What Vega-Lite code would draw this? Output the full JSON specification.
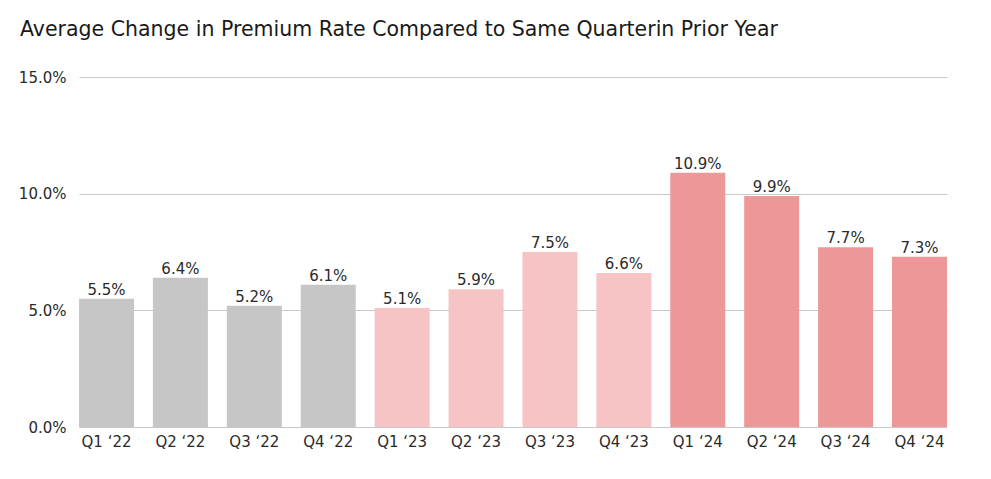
{
  "$schema": "https://vega.github.io/schema/vega-lite/v6.json",
  "width": 868,
  "height": 350,
  "autosize": {"type": "none"},
  "padding": {"left": 79, "top": 77, "right": 44, "bottom": 52},
  "title": {
    "text": "Average Change in Premium Rate Compared to Same Quarterin Prior Year",
    "anchor": "start",
    "frame": "group",
    "dx": -59,
    "offset": 30,
    "fontSize": 20.5,
    "font": "DejaVu Sans",
    "fontWeight": "normal",
    "color": "#1a1a1a"
  },
  "config": {
    "view": {"stroke": null},
    "font": "DejaVu Sans"
  },
  "data": {
    "values": [
      {"quarter": "Q1 ‘22", "value": 5.5, "year": "2022"},
      {"quarter": "Q2 ‘22", "value": 6.4, "year": "2022"},
      {"quarter": "Q3 ‘22", "value": 5.2, "year": "2022"},
      {"quarter": "Q4 ‘22", "value": 6.1, "year": "2022"},
      {"quarter": "Q1 ‘23", "value": 5.1, "year": "2023"},
      {"quarter": "Q2 ‘23", "value": 5.9, "year": "2023"},
      {"quarter": "Q3 ‘23", "value": 7.5, "year": "2023"},
      {"quarter": "Q4 ‘23", "value": 6.6, "year": "2023"},
      {"quarter": "Q1 ‘24", "value": 10.9, "year": "2024"},
      {"quarter": "Q2 ‘24", "value": 9.9, "year": "2024"},
      {"quarter": "Q3 ‘24", "value": 7.7, "year": "2024"},
      {"quarter": "Q4 ‘24", "value": 7.3, "year": "2024"}
    ]
  },
  "encoding": {
    "x": {
      "field": "quarter",
      "type": "ordinal",
      "sort": null,
      "scale": {"paddingInner": 0.256, "paddingOuter": 0},
      "axis": {
        "title": null,
        "labelAngle": 0,
        "ticks": false,
        "domain": false,
        "labelPadding": 7,
        "labelFontSize": 15,
        "labelColor": "#2a2a2a",
        "labelFont": "DejaVu Sans"
      }
    },
    "y": {
      "field": "value",
      "type": "quantitative",
      "scale": {"domain": [0, 15], "nice": false},
      "axis": {
        "title": null,
        "values": [0, 5, 10, 15],
        "labelExpr": "format(datum.value, '.1f') + '%'",
        "ticks": false,
        "domain": false,
        "labelPadding": 13,
        "labelFontSize": 15,
        "labelColor": "#2a2a2a",
        "labelFont": "DejaVu Sans",
        "gridColor": "#c8c8c8",
        "gridWidth": 1
      }
    }
  },
  "layer": [
    {
      "mark": {"type": "bar"},
      "encoding": {
        "color": {
          "field": "year",
          "type": "nominal",
          "scale": {"domain": ["2022", "2023", "2024"], "range": ["#c6c6c6", "#f6c4c4", "#ec9898"]},
          "legend": null
        }
      }
    },
    {
      "mark": {
        "type": "text",
        "baseline": "alphabetic",
        "dy": -4,
        "fontSize": 15,
        "color": "#2a2a2a",
        "font": "DejaVu Sans",
        "text": {"expr": "format(datum.value, '.1f') + '%'"}
      },
      "encoding": {}
    }
  ]
}
